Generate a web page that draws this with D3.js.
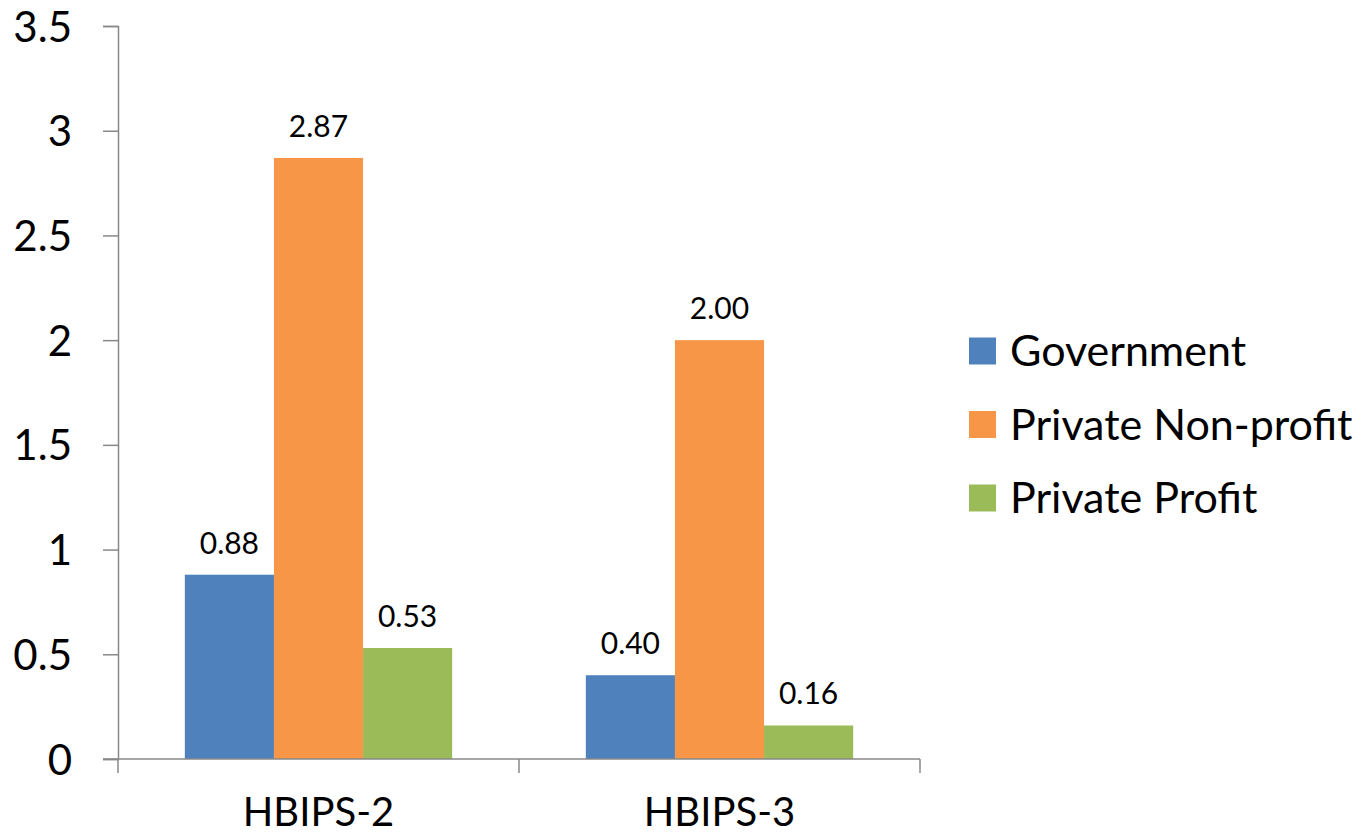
<!DOCTYPE html>
<html>
<head>
<meta charset="utf-8">
<script src="https://cdn.jsdelivr.net/npm/d3@7"></script>
<style>
  body { margin: 0; background: #fff; }
  svg text { font-family: Lato, "Open Sans", sans-serif; fill: #000; }
</style>
</head>
<body>
<script>
var categories = ['HBIPS-2', 'HBIPS-3'];
var seriesNames = ['Government', 'Private Non-profit', 'Private Profit'];
var government = [0.88, 0.40];
var nonProfit = [2.87, 2.00];
var profit = [0.53, 0.16];
var yTicks = [0, 0.5, 1, 1.5, 2, 2.5, 3, 3.5];

var colors = ['#4f81bd', '#f79646', '#9bbb59'];
var allSeries = [government, nonProfit, profit];

var width = 1369, height = 838;
var svg = d3.select('body').append('svg').attr('width', width).attr('height', height);

var x0 = d3.scaleBand().domain(categories).range([118, 920]).paddingInner(0).paddingOuter(0);
var x1 = d3.scaleBand().domain(seriesNames).range([0, x0.bandwidth()]).paddingInner(0).paddingOuter(0.75);
var y = d3.scaleLinear().domain([0, 3.5]).range([759, 26]);

// y axis
var yAxis = svg.append('g').attr('transform', 'translate(118,0)')
  .call(d3.axisLeft(y).tickValues(yTicks).tickSize(15).tickPadding(31)
    .tickFormat(function (d) { return String(d); }));
yAxis.select('.domain').attr('stroke', '#888').attr('stroke-width', 1.5);
yAxis.selectAll('.tick line').attr('stroke', '#888').attr('stroke-width', 1.5);
yAxis.selectAll('.tick text').attr('font-size', 42).attr('dy', '0.36em');

// bars
categories.forEach(function (cat, ci) {
  seriesNames.forEach(function (s, si) {
    var v = allSeries[si][ci];
    svg.append('rect')
      .attr('x', x0(cat) + x1(s))
      .attr('y', y(v))
      .attr('width', x1.bandwidth())
      .attr('height', y(0) - y(v))
      .attr('fill', colors[si]);
    svg.append('text')
      .attr('x', x0(cat) + x1(s) + x1.bandwidth() / 2)
      .attr('y', y(v) - 21)
      .attr('text-anchor', 'middle')
      .attr('font-size', 30)
      .text(v.toFixed(2));
  });
});

// x axis
var xAxis = svg.append('g').attr('transform', 'translate(0,759)')
  .call(d3.axisBottom(x0).tickSize(0).tickPadding(39));
xAxis.select('.domain').remove();
xAxis.selectAll('.tick text').attr('font-size', 40).attr('dy', '0.71em');
svg.append('line').attr('x1', 103).attr('x2', 920).attr('y1', 759).attr('y2', 759)
  .attr('stroke', '#888').attr('stroke-width', 1.5);
var bounds = [x0(categories[0])].concat(categories.map(function (c) { return x0(c) + x0.bandwidth(); }));
svg.selectAll('.cat-tick').data(bounds).enter().append('line')
  .attr('x1', function (d) { return d; }).attr('x2', function (d) { return d; })
  .attr('y1', 759).attr('y2', 773)
  .attr('stroke', '#888').attr('stroke-width', 1.5);

// legend
var legend = svg.append('g').attr('transform', 'translate(969,351)');
seriesNames.forEach(function (s, i) {
  var g = legend.append('g').attr('transform', 'translate(0,' + (i * 73.5) + ')');
  g.append('rect').attr('x', 0).attr('y', -13.5).attr('width', 27).attr('height', 27).attr('fill', colors[i]);
  g.append('text').attr('x', 41).attr('y', 0).attr('dy', '0.36em').attr('font-size', 43).text(s);
});
</script>
</body>
</html>
